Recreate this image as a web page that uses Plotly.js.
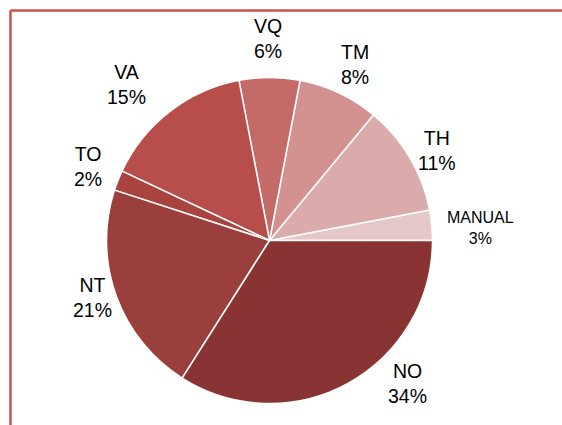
<!DOCTYPE html>
<html>
<head>
<meta charset="utf-8">
<script src="https://cdn.plot.ly/plotly-3.0.1.min.js"></script>
<style>html,body{margin:0;padding:0;background:#fff;}#chart{width:562px;height:425px;}</style>
</head>
<body>
<div id="chart"></div>
<script>
// Data
var categories = ["MANUAL", "TH", "TM", "VQ", "VA", "TO", "NT", "NO"];
var values = [3, 11, 8, 6, 15, 2, 21, 34];

// Styles
var sliceColors = ["#E6C7C7", "#DBABAC", "#D39290", "#C46A67", "#B84E4B", "#A8433F", "#9B3F3D", "#893432"];
var W = 562, H = 425;
// label block centres in pixels (layout only)
var labelPx = [[480, 227.5], [437, 151], [355, 64], [268, 38.5], [126, 84], [88, 166], [92, 297.5], [407, 383]];
var labelSize = [16, 19.5, 19.5, 19.5, 19.5, 19.5, 19.5, 19.5];

var total = values.reduce(function (a, b) { return a + b; }, 0);
var annotations = categories.map(function (c, i) {
  return {
    xref: "paper", yref: "paper",
    x: labelPx[i][0] / W, y: 1 - labelPx[i][1] / H,
    xanchor: "center", yanchor: "middle",
    text: c + "<br>" + Math.round(values[i] / total * 100) + "%",
    showarrow: false,
    font: {family: "Arial, 'Liberation Sans', sans-serif", size: labelSize[i], color: "#000"}
  };
});

// Plotly: in counterclockwise mode the first slice ENDS at `rotation`,
// so shift by the first slice's angle to make it START at 3 o'clock.
var rotation = 90 - 360 * values[0] / total;

var cx = 269.5, cy = 240.5, r = 163;
var trace = {
  type: "pie",
  labels: categories,
  values: values,
  sort: false,
  direction: "counterclockwise",
  rotation: rotation,
  textinfo: "none",
  hoverinfo: "none",
  marker: {colors: sliceColors, line: {color: "#FFFFFF", width: 1.5}},
  domain: {x: [(cx - r) / W, (cx + r) / W], y: [(H - cy - r) / H, (H - cy + r) / H]},
  showlegend: false
};

var bx = 10.5, by = 10.5;
var layout = {
  width: W, height: H,
  margin: {l: 0, r: 0, t: 0, b: 0},
  paper_bgcolor: "#FFFFFF",
  showlegend: false,
  annotations: annotations,
  shapes: [
    {type: "line", xref: "paper", yref: "paper", x0: bx / W, x1: bx / W, y0: 1 - by / H, y1: 0, line: {color: "#C9524F", width: 2.5}},
    {type: "line", xref: "paper", yref: "paper", x0: bx / W, x1: 1, y0: 1 - by / H, y1: 1 - by / H, line: {color: "#C9524F", width: 2.5}}
  ]
};

Plotly.newPlot("chart", [trace], layout, {staticPlot: true, displayModeBar: false});
</script>
</body>
</html>
